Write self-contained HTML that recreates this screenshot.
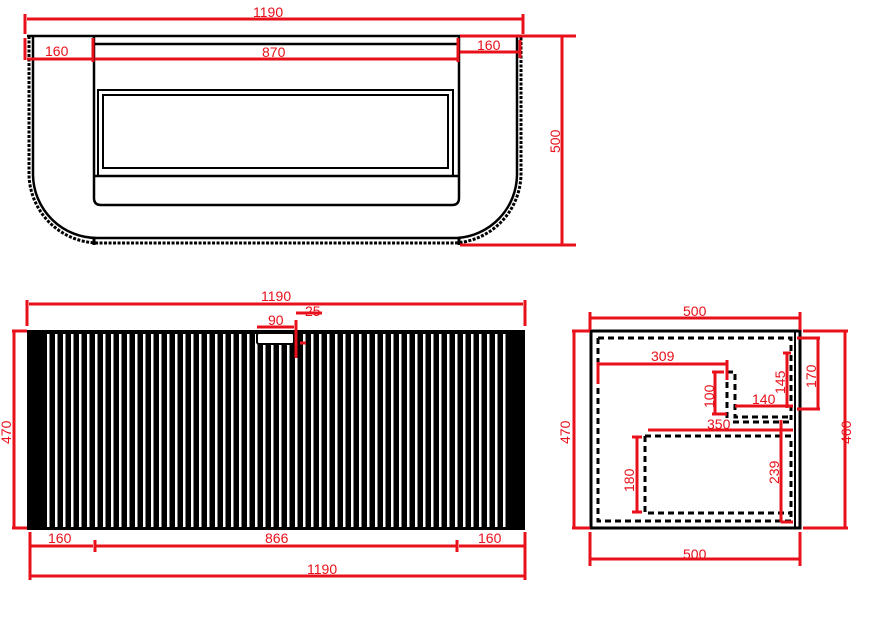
<!DOCTYPE html>
<html><head><meta charset="utf-8"><style>
html,body{margin:0;padding:0;background:#fff;width:880px;height:620px;overflow:hidden}
text{font-family:"Liberation Sans",sans-serif;font-size:14px;fill:#e8101a}
</style></head><body>
<svg width="880" height="620" viewBox="0 0 880 620" xmlns="http://www.w3.org/2000/svg">
<defs>
<pattern id="st" x="45" y="0" width="8" height="10" patternUnits="userSpaceOnUse">
<rect x="0" y="0" width="8" height="10" fill="#000"/><rect x="2" y="0" width="2.5" height="10" fill="#fff"/>
</pattern>
</defs>
<!-- TOP VIEW -->
<g fill="none" stroke="#000" stroke-width="2.5">
<path d="M27 36 H522"/>
<path d="M29 36 V175 A70 70 0 0 0 99 243 H455 A70 70 0 0 0 521 175 V36" stroke-dasharray="3 1.5" stroke-width="3"/>
<path d="M33 36 V175 A64 64 0 0 0 97 238 H457 A64 64 0 0 0 517 175 V36"/>
<path d="M94 36 V198 Q94 205 101 205 H452 Q459 205 459 198 V36"/>
<path d="M94 44 H459"/>
<path d="M98 90 H453 V176 H98 Z" stroke-width="2"/>
<path d="M103 95 H448 V168 H103 Z" stroke-width="2"/>
<path d="M94 176 H459"/>
<path d="M94 237 V245 M459 237 V245" stroke-width="3"/>
</g>
<g stroke="#e8101a" stroke-width="3" fill="none">
<path d="M27 19 H523 M25 14 V34 M523 14 V34"/>
<path d="M25 38 V60 M27 59 H93 M93 38 V62 M95 59 H458 M458 38 V62 M460 52 H520 M520 40 V58"/>
<path d="M460 36 H576 M460 245 H576 M562 36 V245"/>
</g>
<text x="253" y="17">1190</text>
<text x="45" y="56">160</text>
<text x="262" y="57">870</text>
<text x="477" y="50">160</text>
<text transform="translate(560 153) rotate(-90)">500</text>
<!-- FRONT VIEW -->
<rect x="27" y="330" width="498" height="200" fill="#000"/>
<rect x="45" y="334" width="466" height="193" fill="url(#st)"/>
<rect x="257" y="333" width="37" height="11" fill="#fff" stroke="#000" stroke-width="2" rx="2"/>
<g stroke="#e8101a" stroke-width="3" fill="none">
<path d="M29 304 H523 M27 300 V326 M525 300 V326"/>
<path d="M257 327 H294 M296 320 V358 M296 313 H322 M300 343 H306"/>
<path d="M12 331 H27 M12 528 H27 M14 331 V528"/>
<path d="M30 532 V580 M30 546 H93 M95 540 V552 M95 546 H456 M457 540 V552 M459 546 H524 M525 532 V580 M30 576 H524"/>
</g>
<text x="261" y="301">1190</text>
<text x="268" y="325">90</text>
<text x="305" y="316">25</text>
<text transform="translate(11 444) rotate(-90)">470</text>
<text x="48" y="543">160</text>
<text x="265" y="543">866</text>
<text x="478" y="543">160</text>
<text x="307" y="574">1190</text>
<!-- SIDE VIEW -->
<rect x="591" y="331" width="209" height="197" fill="none" stroke="#000" stroke-width="3"/>
<path d="M795 331 V528" stroke="#000" stroke-width="2"/>
<g fill="none" stroke="#000" stroke-width="3" stroke-dasharray="6 4">
<path d="M598 338 H791 V420 M598 338 V521 H791 V440"/>
<path d="M727 372 H735 V417 H791 M727 372 V420 M733 422 H791"/>
<path d="M645 436 H791 M645 436 V513 H791"/>
</g>
<g stroke="#e8101a" stroke-width="3" fill="none">
<path d="M591 318 H800 M590 312 V330 M800 312 V330"/>
<path d="M591 559 H800 M590 532 V566 M800 532 V566"/>
<path d="M572 331 H590 M572 528 H590 M574 331 V528"/>
<path d="M803 331 H848 M803 528 H848 M845 331 V528"/>
<path d="M598 362 V384 M598 364 H727 M727 360 V380"/>
<path d="M712 372 H724 M712 414 H727 M715 372 V414"/>
<path d="M735 406 H793 M787 353 V408 M783 353 H791"/>
<path d="M797 338 H820 M797 409 H820 M818 338 V409"/>
<path d="M648 430 H793 M781 420 V522 M781 522 H793"/>
<path d="M632 437 H642 M632 512 H642 M637 437 V512"/>
</g>
<text x="683" y="316">500</text>
<text x="683" y="559">500</text>
<text transform="translate(570 444) rotate(-90)">470</text>
<text transform="translate(851 444) rotate(-90)">460</text>
<text x="651" y="361">309</text>
<text transform="translate(714 408) rotate(-90)">100</text>
<text x="752" y="404">140</text>
<text transform="translate(785 394) rotate(-90)">145</text>
<text transform="translate(816 388) rotate(-90)">170</text>
<text x="707" y="429">350</text>
<text transform="translate(634 492) rotate(-90)">180</text>
<text transform="translate(779 484) rotate(-90)">239</text>
</svg>
</body></html>
